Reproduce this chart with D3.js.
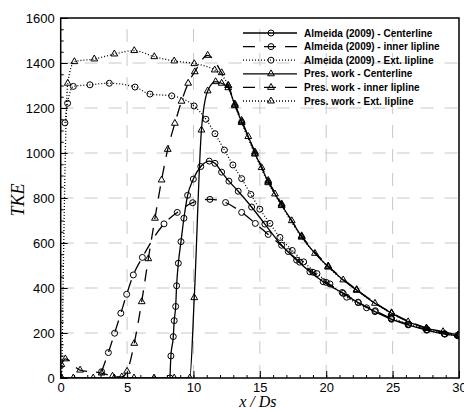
<!DOCTYPE html>
<html>
<head>
<meta charset="utf-8">
<script src="https://cdn.jsdelivr.net/npm/d3@7"></script>
<style>
  body { margin: 0; background: #fff; }
  svg { display: block; }
</style>
</head>
<body>
<div id="chart"></div>
<script>
// Ticks and labels
const xTicks = [0, 5, 10, 15, 20, 25, 30];
const yTicks = [0, 200, 400, 600, 800, 1000, 1200, 1400, 1600];

// Almeida (2009) experimental data, [x/Ds, TKE]
const almeidaCenter = [
  [8.23, 0], [8.3, 98], [8.48, 184], [8.55, 255], [8.66, 318], [8.73, 410], [8.86, 510],
  [9.06, 606], [9.28, 710], [9.56, 812], [9.99, 884], [10.55, 940], [11.19, 964],
  [11.62, 954], [12.12, 915], [12.67, 875], [13.37, 830], [14.38, 760], [15.38, 684],
  [16.64, 590], [17.77, 524], [18.77, 472], [19.77, 428], [21.28, 376], [22.41, 335],
  [23.67, 295], [24.92, 261], [26.17, 236], [27.55, 213], [28.94, 195], [29.94, 187]
];
const almeidaInner = [
  [3.08, 28], [3.59, 113], [4.06, 199], [4.53, 288], [4.97, 372], [5.47, 458], [6.15, 536],
  [7.78, 685], [8.78, 736], [9.94, 779], [11.24, 794], [12.42, 780], [13.63, 736],
  [14.66, 687], [15.63, 638], [17.14, 562], [18.0, 515], [19.0, 470], [20.0, 425],
  [21.2, 380], [22.4, 337], [23.7, 299], [24.9, 264], [26.2, 238], [27.6, 215],
  [28.9, 197], [29.9, 189]
];
const almeidaExt = [
  [0.32, 1134], [0.52, 1221], [0.95, 1296], [2.2, 1303], [3.66, 1310], [5.6, 1293],
  [6.72, 1262], [8.36, 1254], [10.05, 1209], [10.94, 1150], [11.62, 1086], [12.33, 1013],
  [12.97, 947], [13.63, 886], [14.32, 816], [15.0, 750], [15.76, 687], [16.51, 625],
  [17.44, 567], [18.3, 516], [19.3, 464], [20.28, 418], [21.54, 359], [23.04, 312],
  [24.9, 266], [26.2, 239], [27.6, 214], [28.9, 196], [29.9, 189]
];

// Present work (simulation), [x/Ds, TKE]
const presCenter = [
  [0, 0], [0.95, 0], [2.45, 0], [4.04, 0], [5.52, 0], [7.03, 0], [8.55, 0], [9.72, 0],
  [10.06, 357], [10.6, 1102], [11.07, 1276], [11.67, 1317], [12.12, 1310], [12.62, 1290],
  [13.12, 1213], [13.63, 1139], [14.13, 1073], [14.63, 999], [15.13, 935], [15.63, 872],
  [16.14, 818], [16.64, 769], [17.4, 699], [18.15, 628], [19.15, 554], [20.15, 495],
  [21.28, 436], [22.29, 391], [23.67, 332], [24.92, 288], [26.17, 250], [27.55, 221],
  [28.8, 206], [29.94, 191]
];
const presInner = [
  [0.05, 60], [0.35, 85], [1.46, 35], [3.08, 22], [3.9, 8], [4.6, 5], [5.0, 30],
  [5.54, 154], [6.1, 339], [6.6, 530], [7.1, 710], [7.6, 880], [8.06, 1016], [8.6, 1132],
  [9.1, 1230], [9.6, 1310], [10.1, 1361], [11.07, 1434], [12.12, 1357], [12.62, 1300],
  [13.12, 1218], [13.63, 1145], [14.63, 1005], [15.63, 878], [16.64, 774], [18.15, 632],
  [20.15, 498], [22.29, 393], [24.92, 290], [27.55, 222], [29.94, 192]
];
const presExt = [
  [0.08, 0], [0.53, 1310], [1.03, 1406], [2.53, 1418], [4.04, 1440], [5.54, 1455],
  [7.05, 1428], [8.55, 1409], [10.06, 1397], [11.6, 1369], [12.62, 1300], [13.12, 1210],
  [13.63, 1135], [14.63, 995], [15.63, 868], [16.64, 766], [18.15, 626], [20.15, 493],
  [22.29, 390], [24.92, 287], [27.55, 220], [29.94, 190]
];

const seriesLabels = [
  'Almeida (2009) - Centerline',
  'Almeida (2009) - inner lipline',
  'Almeida (2009) - Ext. lipline',
  'Pres. work - Centerline',
  'Pres. work - inner lipline',
  'Pres. work - Ext. lipline'
];

const width = 464, height = 412;
const margin = { top: 18, right: 5, bottom: 34, left: 60.7 };

const x = d3.scaleLinear().domain([0, 30]).range([margin.left, width - margin.right]);
const y = d3.scaleLinear().domain([0, 1600]).range([height - margin.bottom, margin.top]);

const svg = d3.select('#chart')
  .append('svg')
  .attr('width', width)
  .attr('height', height)
  .style('font-family', '"Liberation Sans", Arial, sans-serif');

svg.append('defs').append('clipPath').attr('id', 'plot-clip')
  .append('rect')
  .attr('x', x(0)).attr('y', y(1600))
  .attr('width', x(30) - x(0)).attr('height', y(0) - y(1600));

// Dashed grid
const grid = svg.append('g').classed('grid', true)
  .attr('stroke', '#c8c8c8').attr('stroke-width', 1).attr('stroke-dasharray', '13,11');
grid.selectAll('line.vx')
  .data(xTicks.slice(1, -1))
  .join('line')
  .attr('x1', (d) => x(d)).attr('x2', (d) => x(d))
  .attr('y1', y(0)).attr('y2', y(1600));
grid.selectAll('line.hy')
  .data(yTicks.slice(1, -1))
  .join('line')
  .attr('x1', x(0)).attr('x2', x(30))
  .attr('y1', (d) => y(d)).attr('y2', (d) => y(d));

// Axes (ticks point inward)
const xMinor = d3.range(0, 31, 1);
const yMinor = d3.range(0, 1601, 50);

svg.append('g')
  .attr('transform', `translate(0,${y(0)})`)
  .call(d3.axisBottom(x).tickValues(xMinor).tickSize(-3).tickFormat(''))
  .call((g) => g.select('.domain').remove());
svg.append('g')
  .attr('transform', `translate(0,${y(0)})`)
  .call(d3.axisBottom(x).tickValues(xTicks).tickSize(-7).tickPadding(5).tickFormat(d3.format('d')))
  .call((g) => g.select('.domain').remove())
  .call((g) => g.selectAll('text').attr('font-size', 13).attr('fill', '#000')
    .attr('font-family', '"Liberation Sans", Arial, sans-serif'));

svg.append('g')
  .attr('transform', `translate(${x(0)},0)`)
  .call(d3.axisLeft(y).tickValues(yMinor).tickSize(-3).tickFormat(''))
  .call((g) => g.select('.domain').remove());
svg.append('g')
  .attr('transform', `translate(${x(0)},0)`)
  .call(d3.axisLeft(y).tickValues(yTicks).tickSize(-7).tickPadding(6).tickFormat(d3.format('d')))
  .call((g) => g.select('.domain').remove())
  .call((g) => g.selectAll('text').attr('font-size', 13).attr('fill', '#000')
    .attr('font-family', '"Liberation Sans", Arial, sans-serif'));

// Series
const series = [
  { data: almeidaCenter, dash: null, marker: 'circle' },
  { data: almeidaInner, dash: '12,9', marker: 'circle' },
  { data: almeidaExt, dash: '1,2', marker: 'circle' },
  { data: presCenter, dash: null, marker: 'triangle' },
  { data: presInner, dash: '12,9', marker: 'triangle' },
  { data: presExt, dash: '1,2', marker: 'triangle' }
];

const line = d3.line()
  .x((d) => x(d[0]))
  .y((d) => y(d[1]))
  .curve(d3.curveMonotoneX);

const tri = d3.symbol().type(d3.symbolTriangle).size(20);

function drawMarker(sel, kind) {
  if (kind === 'circle') {
    sel.append('circle').attr('r', 3).attr('fill', 'none')
      .attr('stroke', '#000').attr('stroke-width', 1);
  } else {
    sel.append('path').attr('d', tri).attr('fill', 'none')
      .attr('stroke', '#000').attr('stroke-width', 1);
  }
}

const plot = svg.append('g').attr('clip-path', 'url(#plot-clip)');

series.forEach((s) => {
  plot.append('path')
    .datum(s.data)
    .attr('d', line)
    .attr('fill', 'none')
    .attr('stroke', '#000')
    .attr('stroke-width', 1.3)
    .attr('stroke-dasharray', s.dash);

  plot.append('g')
    .selectAll('g')
    .data(s.data)
    .join('g')
    .attr('transform', (d) => `translate(${x(d[0])},${y(d[1])})`)
    .each(function () { drawMarker(d3.select(this), s.marker); });
});

// Frame
svg.append('rect')
  .attr('x', x(0)).attr('y', y(1600))
  .attr('width', x(30) - x(0)).attr('height', y(0) - y(1600))
  .attr('fill', 'none').attr('stroke', '#000').attr('stroke-width', 1.5);

// Axis titles
svg.append('text')
  .attr('x', (x(0) + x(30)) / 2 - 2)
  .attr('y', 407)
  .attr('text-anchor', 'middle')
  .attr('font-family', '"Liberation Serif", "Times New Roman", serif')
  .attr('font-style', 'italic')
  .attr('font-size', 16)
  .text('x / Ds');

svg.append('text')
  .attr('transform', `translate(24,${y(800) + 2}) rotate(-90)`)
  .attr('text-anchor', 'middle')
  .attr('font-family', '"Liberation Serif", "Times New Roman", serif')
  .attr('font-style', 'italic')
  .attr('font-size', 18)
  .text('TKE');

// Legend
const legend = svg.append('g').classed('legend', true);
const legendRows = legend.selectAll('g')
  .data(series)
  .join('g')
  .attr('transform', (d, i) => `translate(0,${33 + i * 13.6})`);

legendRows.append('line')
  .attr('x1', 243).attr('x2', 297)
  .attr('y1', 0).attr('y2', 0)
  .attr('stroke', '#000')
  .attr('stroke-width', 1.3)
  .attr('stroke-dasharray', (d) => d.dash);

legendRows.append('g')
  .attr('transform', 'translate(271,0)')
  .each(function (d) { drawMarker(d3.select(this), d.marker); });

legendRows.append('text')
  .attr('x', 304)
  .attr('y', 0)
  .attr('dy', '0.35em')
  .attr('font-size', 10)
  .attr('font-weight', 'bold')
  .text((d, i) => seriesLabels[i]);
</script>
</body>
</html>
